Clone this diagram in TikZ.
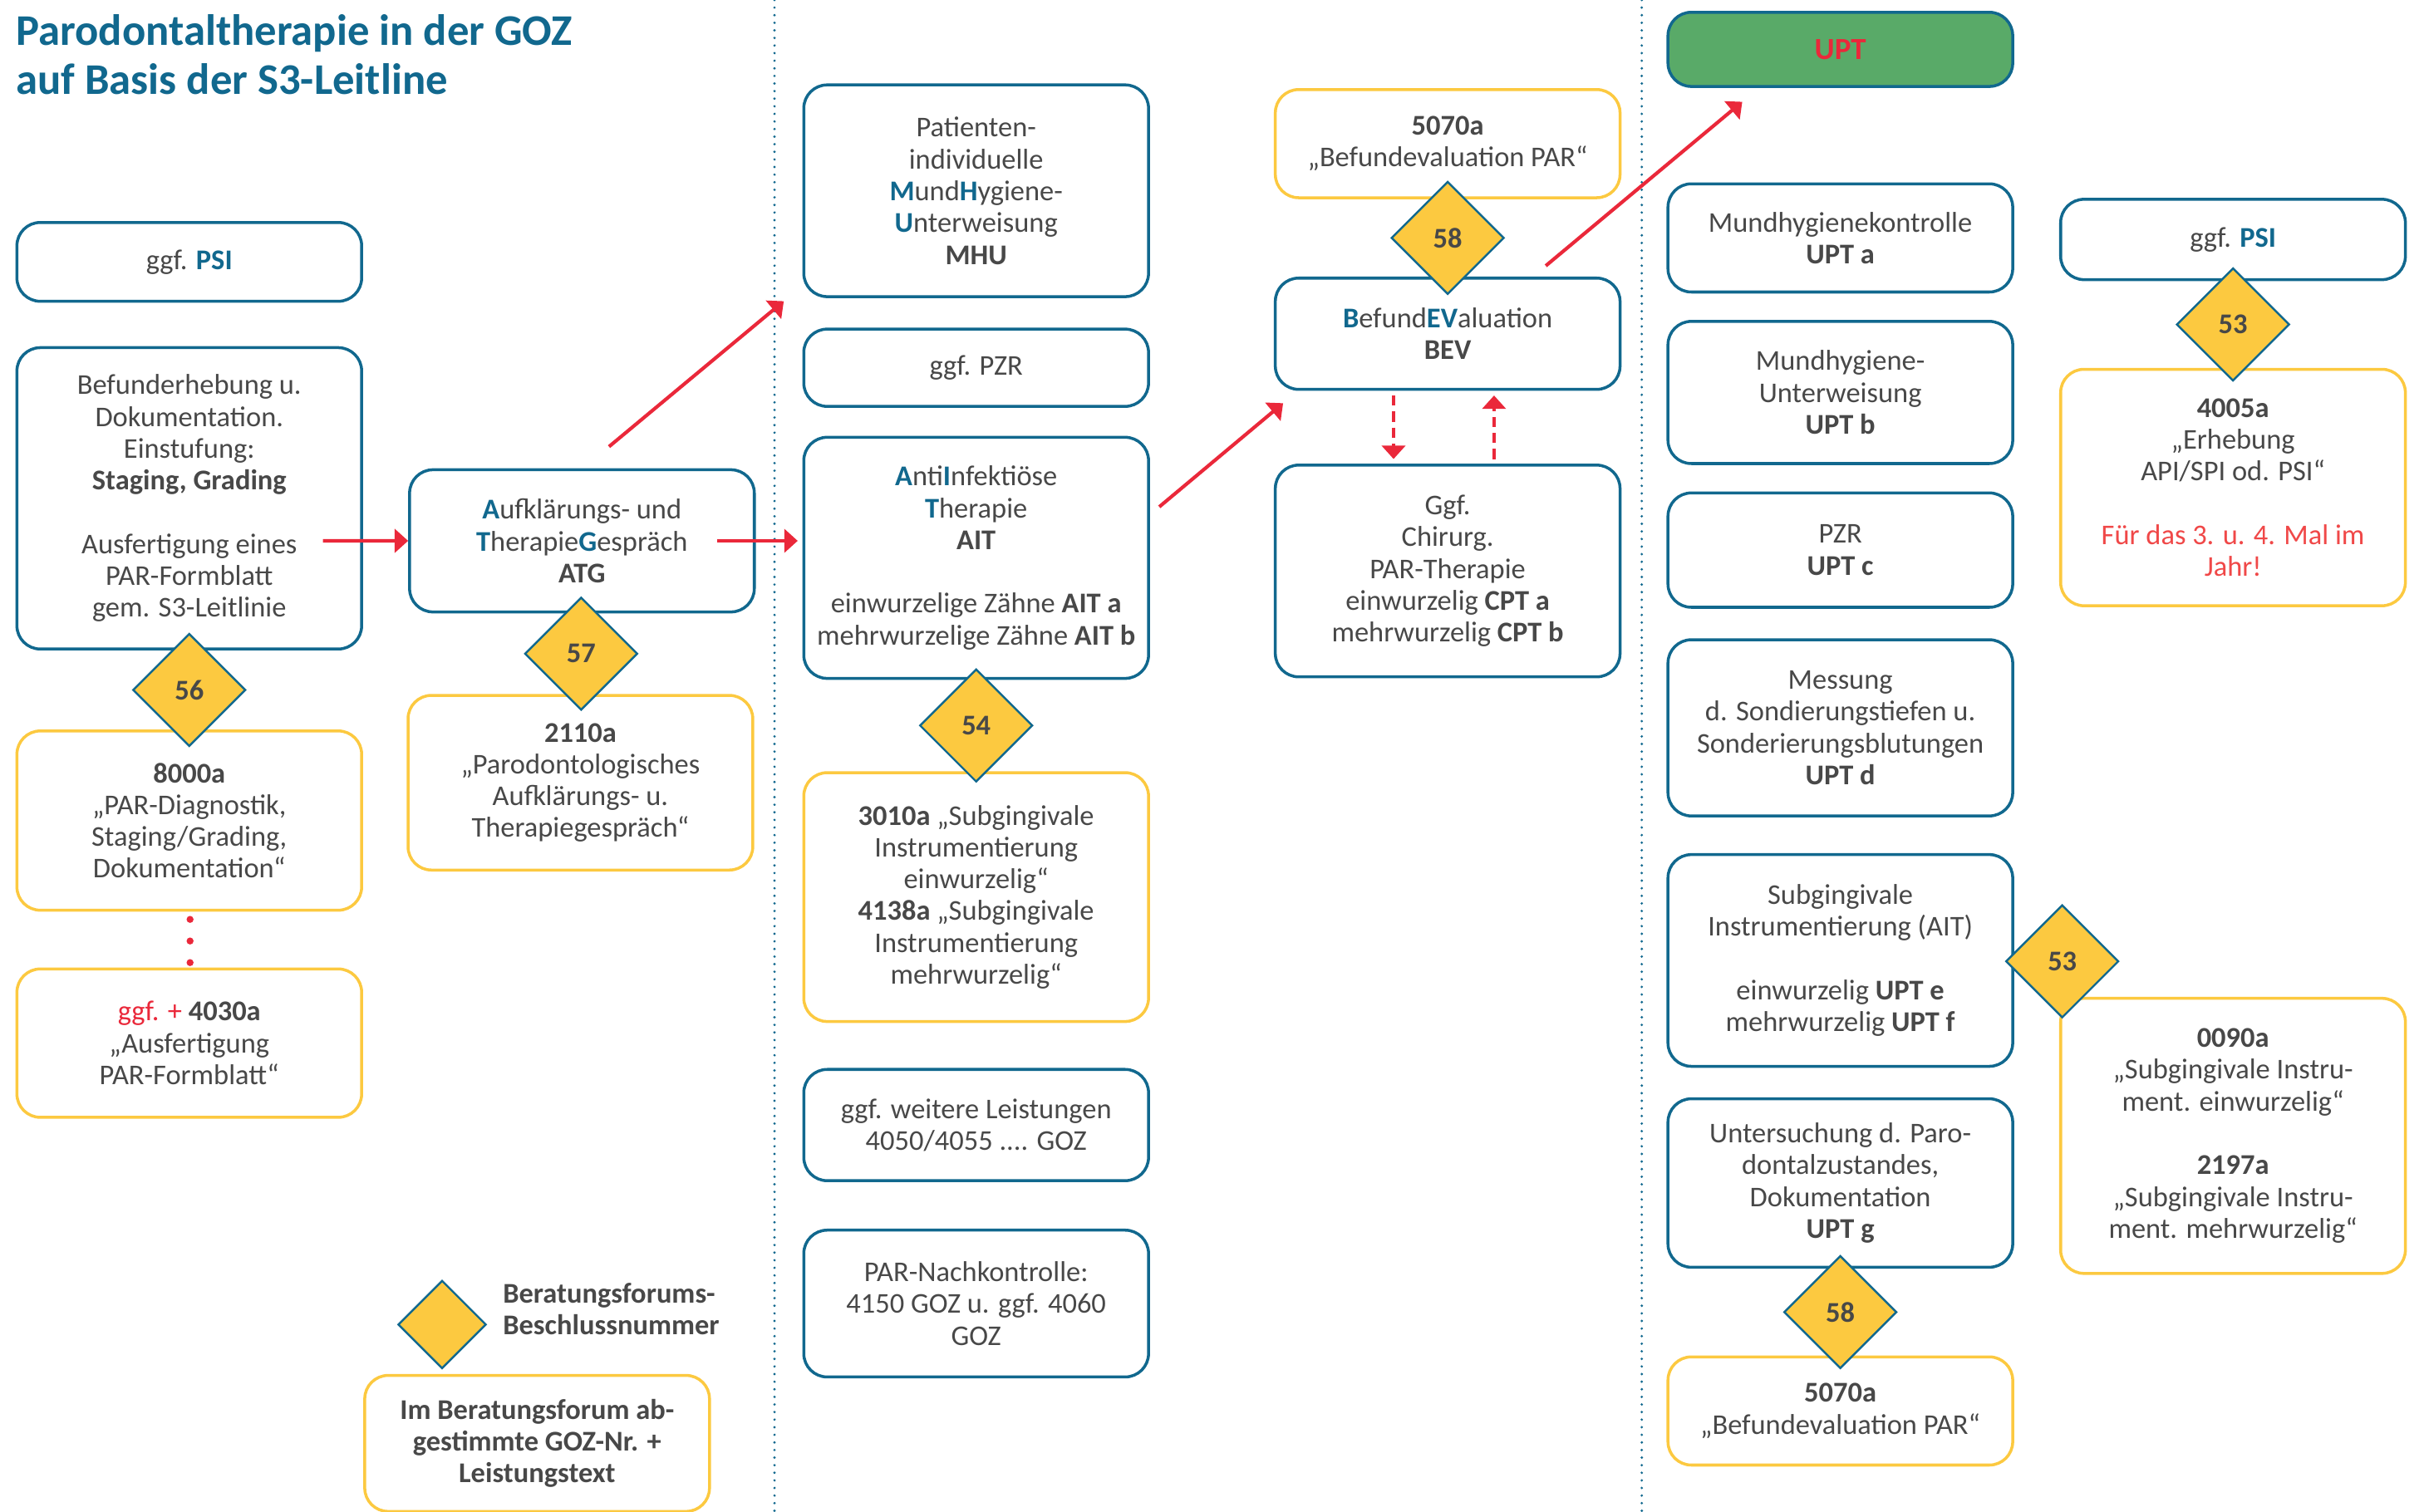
\documentclass[tikz,border=0pt]{standalone}
\usepackage{fontspec}
\setmainfont{Carlito}
\usepackage{xcolor}
\usepackage{tikz}
\usetikzlibrary{arrows.meta}
\usetikzlibrary{shapes.geometric}
\usetikzlibrary{positioning}
\usetikzlibrary{calc}
\definecolor{blau}{RGB}{17,104,142}
\definecolor{gelb}{RGB}{252,201,64}
\definecolor{rot}{RGB}{234,40,58}
\definecolor{hellrot}{RGB}{240,72,72}
\definecolor{gruen}{RGB}{89,170,104}
\definecolor{grautext}{RGB}{72,72,72}
\newcommand{\pxe}{0.18603mm}
\newcommand{\hervor}[1]{\textcolor{blau}{\textbf{#1}}}
\tikzset{
  kasten/.style={draw=blau, line width=1pt, rounded corners=8pt, fill=white, align=center,
    minimum width=223*\pxe, minimum height=#1*\pxe, inner sep=2pt, anchor=north west,
    text=grautext, font=\fontsize{9.8}{10.9}\selectfont},
  kasten/.default=60,
  goz/.style={kasten=#1, draw=gelb},
  goz/.default=70,
  raute/.style={diamond, draw=blau, fill=gelb, line width=0.7pt, minimum width=#1*\pxe,
    minimum height=#1*\pxe, inner sep=0pt, text=grautext, font=\bfseries\fontsize{9.8}{10.9}\selectfont},
  raute/.default=73,
  pfeil/.style={-{Triangle[length=4.6pt,width=8pt]}, draw=rot, line width=1.2pt},
  strich/.style={pfeil, line width=1.1pt, dash pattern=on 3.5pt off 2pt},
  punkte/.style={draw=rot, line width=2.4pt, line cap=round, dash pattern=on 0pt off 7.4pt, dash phase=4.76pt},
  trenner/.style={draw=blau, line width=0.9pt, line cap=round, dash pattern=on 0pt off 2.6pt},
}

\begin{document}
\begin{tikzpicture}[x=\pxe, y=-\pxe]
  \useasboundingbox (0,0) rectangle (1568,978);
  % Trennlinien
  \draw[trenner] (501,0) -- (501,978);
  \draw[trenner] (1062,0) -- (1062,978);
  % Titel
  \node[anchor=north west, inner sep=0pt, align=left, text=blau, font=\bfseries\fontsize{15}{16.8}\selectfont] (titel) at (10,9) {Parodontaltherapie in der GOZ\\auf Basis der S3-Leitline};

  % Spalte 1
  \node[kasten=51] (psi) at (10,143) {ggf. \hervor{PSI}};
  \node[kasten=195] (befund) at (10,224) {Befunderhebung u.\\Dokumentation.\\Einstufung:\\\textbf{Staging, Grading}\\[10.9pt]Ausfertigung eines\\PAR-Formblatt\\gem. S3-Leitlinie};
  \node[goz=116] (k8000) at (10,472) {\textbf{8000a}\\„PAR-Diagnostik,\\Staging/Grading,\\Dokumentation“};
  \node[goz=96] (k4030) at (10,626) {\textcolor{rot}{ggf. +} \textbf{4030a}\\„Ausfertigung\\PAR-Formblatt“};

  % Spalte 2
  \node[kasten=92] (atg) at (264,303) {\hervor{A}ufklärungs- und\\\hervor{T}herapie\hervor{G}espräch\\\textbf{ATG}};
  \node[goz=113] (k2110) at (263,449) {\textbf{2110a}\\„Parodontologisches\\Aufklärungs- u.\\Therapiegespräch“};
  \node[goz=88, font=\bfseries\fontsize{9.8}{10.9}\selectfont] (legkasten) at (235,889) {Im Beratungsforum ab-\\gestimmte GOZ-Nr. +\\Leistungstext};
  \node[raute=57] (legraute) at (286,857) {};
  \node[anchor=west, align=left, inner sep=0pt, text=grautext, font=\bfseries\fontsize{9.8}{10.9}\selectfont] (legtext) at (325,847) {Beratungsforums-\\Beschlussnummer};

  % Spalte 3
  \node[kasten=137] (mhu) at (519,54) {Patienten-\\individuelle\\\hervor{M}und\hervor{H}ygiene-\\\hervor{U}nterweisung\\\textbf{MHU}};
  \node[kasten=50] (pzr) at (519,212) {ggf. PZR};
  \node[kasten=156] (ait) at (519,282) {\hervor{A}nti\hervor{I}nfektiöse\\\hervor{T}herapie\\\textbf{AIT}\\[10.9pt]einwurzelige Zähne \textbf{AIT a}\\mehrwurzelige Zähne \textbf{AIT b}};
  \node[goz=161] (k3010) at (519,499) {\textbf{3010a} „Subgingivale\\Instrumentierung\\einwurzelig“\\\textbf{4138a} „Subgingivale\\Instrumentierung\\mehrwurzelig“};
  \node[kasten=72] (weitere) at (519,691) {ggf. weitere Leistungen\\4050/4055 .... GOZ};
  \node[kasten=95] (nachk) at (519,795) {PAR-Nachkontrolle:\\4150 GOZ u. ggf. 4060\\GOZ};

  % Spalte 4
  \node[goz=70] (k5070o) at (824,57) {\textbf{5070a}\\„Befundevaluation PAR“};
  \node[kasten=72] (bev) at (824,179) {\hervor{B}efund\hervor{EV}aluation\\\textbf{BEV}};
  \node[kasten=137] (cpt) at (824,300) {Ggf.\\Chirurg.\\PAR-Therapie\\einwurzelig \textbf{CPT a}\\mehrwurzelig \textbf{CPT b}};

  % Spalte 5
  \node[kasten=48, fill=gruen, text=rot, font=\bfseries\fontsize{10.5}{12}\selectfont] (upt) at (1078,7) {UPT};
  \node[kasten=70] (upta) at (1078,118) {Mundhygienekontrolle\\\textbf{UPT a}};
  \node[kasten=92] (uptb) at (1078,207) {Mundhygiene-\\Unterweisung\\\textbf{UPT b}};
  \node[kasten=74] (uptc) at (1078,318) {PZR\\\textbf{UPT c}};
  \node[kasten=114] (uptd) at (1078,413) {Messung\\d. Sondierungstiefen u.\\Sonderierungsblutungen\\\textbf{UPT d}};
  \node[kasten=137] (uptef) at (1078,552) {Subgingivale\\Instrumentierung (AIT)\\[10.9pt]einwurzelig \textbf{UPT e}\\mehrwurzelig \textbf{UPT f}};
  \node[kasten=109] (uptg) at (1078,710) {Untersuchung d. Paro-\\dontalzustandes,\\Dokumentation\\\textbf{UPT g}};
  \node[goz=70] (k5070u) at (1078,877) {\textbf{5070a}\\„Befundevaluation PAR“};

  % Spalte 6
  \node[kasten=52] (psi2) at (1332,128) {ggf. \hervor{PSI}};
  \node[goz=153] (k4005) at (1332,238) {\textbf{4005a}\\„Erhebung\\API/SPI od. PSI“\\[10.9pt]\textcolor{hellrot}{Für das 3. u. 4. Mal im}\\\textcolor{hellrot}{Jahr!}};
  \node[goz=178] (k0090) at (1332,645) {\textbf{0090a}\\„Subgingivale Instru-\\ment. einwurzelig“\\[10.9pt]\textbf{2197a}\\„Subgingivale Instru-\\ment. mehrwurzelig“};

  % Beschlussnummern
  \node[raute] (r56) at ($(befund.south)!0.5!(k8000.north)$) {56};
  \node[raute] (r57) at ($(atg.south)!0.5!(k2110.north)$) {57};
  \node[raute] (r54) at ($(ait.south)!0.5!(k3010.north)$) {54};
  \node[raute] (r58o) at ($(k5070o.south)!0.5!(bev.north)$) {58};
  \node[raute] (r58u) at ($(uptg.south)!0.5!(k5070u.north)$) {58};
  \node[raute] (r53o) at ($(psi2.south)!0.5!(k4005.north)$) {53};
  \node[raute] (r53u) at (1334,622) {53};

  % Pfeile
  \draw[pfeil] ($(befund.east)+(-26,27.5)$) -- (atg.west);
  \draw[pfeil] ($(atg.east)+(-25,0)$) -- ($(ait.west)+(-3,-11)$);
  \draw[pfeil] ($(atg.north)+(17.5,-14)$) -- ($(mhu.south west)+(-12,2)$);
  \draw[pfeil] ($(ait.east)+(6,-33)$) -- ($(bev.south west)+(6,8)$);
  \draw[pfeil] ($(bev.north east)+(-49,-7)$) -- ($(upt.south west)+(49,9)$);
  \draw[strich] ($(bev.south)+(-35,3)$) -- ($(cpt.north)+(-35,-3)$);
  \draw[strich] ($(cpt.north)+(30,-3)$) -- ($(bev.south)+(30,3)$);
  \draw[punkte] ($(k8000.south)+(0.5,0)$) -- ($(k4030.north)+(0.5,0)$);
\end{tikzpicture}
\end{document}
